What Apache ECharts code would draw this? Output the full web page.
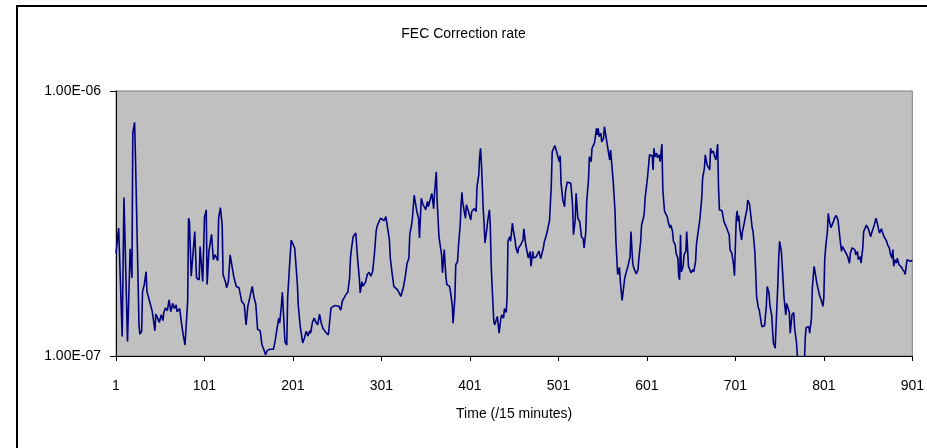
<!DOCTYPE html>
<html><head><meta charset="utf-8">
<script src="https://cdn.jsdelivr.net/npm/echarts@6/dist/echarts.min.js"></script>
<style>html,body{margin:0;padding:0;background:#fff}#c{width:927px;height:448px}</style>
</head><body><div id="c"></div>
<script>
const chartTitle = 'FEC Correction rate';
const xAxisName = 'Time (/15 minutes)';
const xTickStep = 100;
const yMin = 1e-7;
const yMax = 1e-6;

const timeIndex = [
1,4,6,8,10,14,17,19,20,22,23,27,28,30,31,33,35,36,38,40,42,45,46,48,50,52,54,55,57,59,61,63,65,67,69,70,73,75,77,79,
82,83,84,86,90,92,95,96,99,101,103,104,106,109,111,113,116,117,119,121,122,125,126,128,130,132,134,136,137,140,
142,143,146,148,150,152,155,157,159,161,164,166,168,170,172,175,176,179,181,183,185,186,188,189,191,192,194,195,197,199,
201,203,206,207,209,210,212,214,216,218,220,221,223,225,227,229,231,233,235,236,238,241,244,246,248,250,253,255,257,259,
261,263,265,266,267,269,271,272,274,276,277,279,280,283,285,287,289,291,293,295,296,298,300,302,304,306,308,310,311,313,
315,317,319,321,323,326,328,330,332,333,335,336,338,340,341,343,344,346,348,350,351,353,354,356,357,358,360,361,363,364,
366,367,369,370,372,373,374,375,378,379,381,382,384,385,387,388,390,391,392,393,394,396,397,399,400,402,403,405,406,408,
409,411,412,413,414,415,416,417,418,420,421,423,424,425,426,428,429,431,432,434,436,437,439,440,442,443,444,446,447,449,
450,452,453,455,456,458,459,461,462,463,464,466,467,469,470,472,473,475,476,478,479,481,482,484,485,487,488,490,491,493,
494,496,497,499,500,502,503,504,506,508,509,511,513,515,517,518,520,521,523,525,526,527,529,530,532,533,535,536,538,539,
541,542,544,545,546,547,549,550,552,553,555,556,559,560,562,563,565,566,567,568,570,571,573,574,576,577,579,580,582,583,
585,586,588,589,591,592,594,595,597,598,599,601,602,604,605,607,608,609,610,612,613,615,616,618,619,620,621,622,624,625,
627,628,630,631,633,634,636,637,638,639,640,642,643,645,646,648,650,651,653,654,656,657,658,660,661,663,664,666,667,669,
670,672,673,674,676,677,679,680,681,682,683,685,686,688,689,691,692,694,695,697,698,699,700,702,703,704,705,706,708,709,
711,712,714,715,717,718,720,721,723,724,725,727,728,730,731,733,734,736,737,739,740,742,743,744,746,747,748,749,750,751,
753,755,756,758,759,760,762,763,765,767,768,770,771,773,775,778,779,780,781,782,784,785,787,788,790,791,793,794,796,798,
800,801,802,803,805,806,807,809,810,812,813,815,817,818,820,821,822,824,826,828,830,831,833,834,836,837,839,840,842,843,
845,846,848,849,851,852,854,855,857,858,860,861,863,864,866,867,869,870,872,873,875,876,878,879,880,881,883,884,886,887,
889,890,892,893,895,896,898,899,901
];

const fecRate = [
2.44e-7,3.04e-7,3.02e-7,1.185e-7,3.96e-7,1.134e-7,2.54e-7,1.97e-7,6.93e-7,7.62e-7,5.65e-7,1.31e-7,1.21e-7,1.24e-7,1.75e-7,1.86e-7,2.08e-7,1.75e-7,1.73e-7,1.56e-7,1.47e-7,1.245e-7,1.44e-7,1.43e-7,1.34e-7,1.43e-7,1.36e-7,1.46e-7,1.52e-7,1.48e-7,1.63e-7,1.47e-7,1.58e-7,1.51e-7,1.56e-7,1.47e-7,1.51e-7,1.33e-7,1.20e-7,1.10e-7,
1.61e-7,3.31e-7,3.22e-7,2.00e-7,2.95e-7,1.97e-7,1.94e-7,2.59e-7,1.91e-7,3.33e-7,3.56e-7,1.86e-7,2.48e-7,2.88e-7,2.31e-7,2.41e-7,2.29e-7,3.31e-7,3.63e-7,3.12e-7,2.03e-7,1.89e-7,1.81e-7,1.90e-7,2.41e-7,2.44e-7,2.00e-7,2.03e-7,1.83e-7,1.81e-7,
1.83e-7,1.61e-7,1.56e-7,1.31e-7,1.54e-7,1.56e-7,1.83e-7,1.66e-7,1.57e-7,1.26e-7,1.245e-7,1.10e-7,1.06e-7,1.01e-7,1.05e-7,1.06e-7,1.07e-7,1.06e-7,1.15e-7,1.27e-7,1.39e-7,1.33e-7,1.56e-7,1.74e-7,1.76e-7,1.13e-7,1.10e-7,1.66e-7,2.15e-7,2.74e-7,
2.71e-7,2.55e-7,1.86e-7,1.56e-7,1.31e-7,1.24e-7,1.12e-7,1.17e-7,1.24e-7,1.19e-7,1.245e-7,1.22e-7,1.34e-7,1.39e-7,1.34e-7,1.31e-7,1.44e-7,1.33e-7,1.27e-7,1.29e-7,1.23e-7,1.20e-7,1.52e-7,1.52e-7,1.55e-7,1.57e-7,1.54e-7,1.49e-7,1.62e-7,1.66e-7,
1.71e-7,1.74e-7,1.97e-7,2.34e-7,2.52e-7,2.82e-7,2.82e-7,2.91e-7,2.34e-7,1.97e-7,1.73e-7,1.91e-7,1.83e-7,1.90e-7,2.03e-7,2.07e-7,2.00e-7,2.08e-7,2.41e-7,2.95e-7,3.08e-7,3.20e-7,3.31e-7,3.36e-7,3.24e-7,3.36e-7,3.04e-7,2.74e-7,2.34e-7,2.06e-7,
1.83e-7,1.81e-7,1.78e-7,1.73e-7,1.68e-7,1.83e-7,2.00e-7,2.24e-7,2.34e-7,2.87e-7,3.12e-7,3.31e-7,4.05e-7,4.05e-7,3.51e-7,3.31e-7,2.79e-7,3.94e-7,3.72e-7,3.63e-7,3.56e-7,3.83e-7,3.66e-7,3.88e-7,3.94e-7,4.11e-7,3.60e-7,4.11e-7,4.96e-7,3.83e-7,
2.82e-7,2.79e-7,2.41e-7,2.06e-7,2.52e-7,2.21e-7,1.97e-7,1.86e-7,1.83e-7,1.75e-7,1.56e-7,1.33e-7,1.66e-7,2.21e-7,2.27e-7,2.59e-7,3.12e-7,3.72e-7,4.15e-7,3.77e-7,3.72e-7,3.31e-7,3.72e-7,3.77e-7,3.45e-7,3.26e-7,3.51e-7,3.45e-7,3.60e-7,3.51e-7,
4.36e-7,4.82e-7,5.65e-7,6.08e-7,5.34e-7,4.42e-7,3.60e-7,3.17e-7,2.67e-7,2.99e-7,3.22e-7,3.56e-7,3.12e-7,2.21e-7,1.86e-7,1.35e-7,1.31e-7,1.33e-7,1.41e-7,1.22e-7,1.39e-7,1.43e-7,1.39e-7,1.51e-7,1.46e-7,1.66e-7,2.71e-7,2.82e-7,2.71e-7,3.17e-7,
2.99e-7,2.74e-7,2.56e-7,2.44e-7,2.56e-7,2.61e-7,2.64e-7,2.74e-7,3.02e-7,2.82e-7,2.64e-7,2.63e-7,2.34e-7,2.48e-7,2.18e-7,2.48e-7,2.34e-7,2.31e-7,2.37e-7,2.34e-7,2.49e-7,2.33e-7,2.37e-7,2.56e-7,2.69e-7,2.71e-7,2.91e-7,2.95e-7,3.26e-7,4.42e-7,
5.90e-7,5.94e-7,6.22e-7,5.90e-7,5.99e-7,5.41e-7,5.70e-7,4.49e-7,3.88e-7,3.66e-7,4.17e-7,4.53e-7,4.55e-7,4.49e-7,3.72e-7,2.87e-7,3.26e-7,4.11e-7,3.31e-7,3.22e-7,3.04e-7,2.82e-7,2.77e-7,2.56e-7,2.95e-7,3.83e-7,4.62e-7,5.65e-7,5.41e-7,6.08e-7,
6.27e-7,6.42e-7,7.23e-7,6.83e-7,7.23e-7,6.72e-7,6.93e-7,6.42e-7,6.63e-7,7.33e-7,7.23e-7,6.35e-7,5.49e-7,5.99e-7,5.94e-7,4.53e-7,3.51e-7,2.71e-7,2.34e-7,2.03e-7,2.16e-7,1.91e-7,1.62e-7,1.61e-7,1.97e-7,2.03e-7,2.15e-7,2.21e-7,2.37e-7,2.95e-7,
2.24e-7,2.16e-7,2.08e-7,2.04e-7,2.12e-7,2.34e-7,2.71e-7,3.12e-7,3.31e-7,3.45e-7,3.94e-7,4.49e-7,4.82e-7,5.74e-7,5.77e-7,5.70e-7,5.04e-7,6.08e-7,5.65e-7,5.83e-7,5.60e-7,5.74e-7,5.41e-7,6.30e-7,4.30e-7,3.83e-7,3.51e-7,3.53e-7,3.36e-7,3.22e-7,
3.05e-7,3.12e-7,2.95e-7,2.71e-7,2.63e-7,2.44e-7,2.34e-7,2.00e-7,1.94e-7,2.87e-7,2.08e-7,2.18e-7,2.41e-7,2.48e-7,2.95e-7,2.18e-7,2.16e-7,2.06e-7,2.12e-7,2.08e-7,2.27e-7,2.63e-7,2.79e-7,3.12e-7,3.31e-7,3.94e-7,4.69e-7,5.11e-7,5.74e-7,5.26e-7,
5.17e-7,5.04e-7,6.08e-7,5.83e-7,5.94e-7,5.74e-7,5.49e-7,5.45e-7,6.30e-7,4.30e-7,3.56e-7,3.51e-7,3.53e-7,3.22e-7,3.17e-7,3.05e-7,3.08e-7,2.87e-7,2.52e-7,2.44e-7,2.48e-7,2.21e-7,2.01e-7,3.31e-7,3.53e-7,3.22e-7,3.39e-7,3.04e-7,2.74e-7,2.95e-7,
3.17e-7,3.31e-7,3.56e-7,3.88e-7,3.74e-7,3.51e-7,3.04e-7,2.95e-7,2.48e-7,2.08e-7,1.68e-7,1.52e-7,1.49e-7,1.35e-7,1.29e-7,1.31e-7,1.30e-7,1.54e-7,1.83e-7,1.73e-7,1.56e-7,1.43e-7,1.41e-7,1.12e-7,1.07e-7,1.30e-7,1.30e-7,1.86e-7,2.34e-7,2.71e-7,
2.48e-7,1.91e-7,1.66e-7,1.43e-7,1.58e-7,1.56e-7,1.46e-7,1.22e-7,1.43e-7,1.46e-7,1.27e-7,1.13e-7,1.01e-7,0.95e-7,0.85e-7,0.85e-7,0.95e-7,1.17e-7,1.28e-7,1.26e-7,1.29e-7,1.22e-7,1.39e-7,1.81e-7,2.18e-7,2.18e-7,1.89e-7,1.86e-7,1.70e-7,1.63e-7,
1.54e-7,1.66e-7,2.31e-7,2.56e-7,2.95e-7,3.45e-7,3.26e-7,3.05e-7,3.04e-7,3.22e-7,3.31e-7,3.39e-7,3.26e-7,3.22e-7,2.63e-7,2.48e-7,2.59e-7,2.52e-7,2.56e-7,2.37e-7,2.24e-7,2.44e-7,2.56e-7,2.59e-7,2.52e-7,2.41e-7,2.48e-7,2.31e-7,2.37e-7,2.24e-7,
2.56e-7,2.95e-7,3.05e-7,3.12e-7,3.04e-7,3.08e-7,2.82e-7,2.91e-7,2.95e-7,3.12e-7,3.31e-7,3.22e-7,2.99e-7,2.91e-7,3.02e-7,2.95e-7,2.82e-7,2.80e-7,2.71e-7,2.63e-7,2.56e-7,2.44e-7,2.34e-7,2.52e-7,2.18e-7,2.31e-7,2.24e-7,2.34e-7,2.21e-7,2.24e-7,
2.16e-7,2.12e-7,2.08e-7,2.03e-7,2.31e-7,2.33e-7,2.28e-7,2.31e-7,2.29e-7
];

function sciLabel(v) {
  const e = Math.floor(Math.log10(v) + 1e-9);
  const m = v / Math.pow(10, e);
  const sign = e < 0 ? '-' : '+';
  return m.toFixed(2) + 'E' + sign + String(Math.abs(e)).padStart(2, '0');
}

const seriesData = timeIndex.map((t, k) => [t - 1, fecRate[k]]);
const font = "'Liberation Sans', Arial, sans-serif";

const chart = echarts.init(document.getElementById('c'), null, {renderer: 'canvas'});
chart.setOption({
  animation: false,
  backgroundColor: '#ffffff',
  textStyle: {fontFamily: font},
  title: {
    text: chartTitle, left: 'center', top: 22,
    textStyle: {fontSize: 14, fontWeight: 'normal', color: '#000', fontFamily: font}
  },
  graphic: [{
    type: 'rect', silent: true, z: -1,
    shape: {x: 17, y: 6, width: 1000, height: 1000},
    style: {fill: 'none', stroke: '#000', lineWidth: 2}
  }],
  grid: {
    left: 116, right: 11, top: 91, bottom: 92, show: true,
    backgroundColor: '#C0C0C0', borderColor: '#808080', borderWidth: 1
  },
  xAxis: {
    type: 'value', min: 0, max: 900, interval: xTickStep,
    name: xAxisName, nameLocation: 'middle', nameGap: 51,
    nameTextStyle: {fontSize: 14, color: '#000', fontFamily: font},
    axisLine: {show: true, onZero: false, lineStyle: {color: '#000', width: 1}},
    axisTick: {show: true, length: 5, lineStyle: {color: '#000'}},
    axisLabel: {fontSize: 14, color: '#000', margin: 23, fontFamily: font, formatter: v => String(v + 1)},
    splitLine: {show: false}
  },
  yAxis: {
    type: 'log', logBase: 10, min: yMin, max: yMax,
    axisLine: {show: true, lineStyle: {color: '#000', width: 1}},
    axisTick: {show: true, length: 6, lineStyle: {color: '#000'}},
    axisLabel: {fontSize: 14, color: '#000', margin: 15, fontFamily: font, formatter: sciLabel},
    splitLine: {show: false},
    minorTick: {show: false}
  },
  series: [{
    type: 'line', data: seriesData, showSymbol: false, symbol: 'none',
    clip: true,
    lineStyle: {color: '#000080', width: 1.6}
  }]
});
</script>
</body></html>
